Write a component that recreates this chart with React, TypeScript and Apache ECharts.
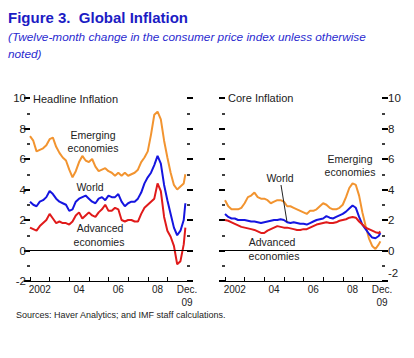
import React, { useEffect, useRef } from "react";
import * as echarts from "echarts";

// Month index from Jan 2002 (0) ... Dec 2009 (95)
const months: number[] = Array.from({ length: 48 }, (_, i) => i * 2).concat([95]);

const headlineEmerging = [7.5,7.2,6.5,6.6,6.7,6.9,7.3,7.4,6.8,6.4, 6.1,5.9,5.3,4.8,5.2,5.8,6.2,5.9,5.8,6.0, 5.5,5.2,5.3,5.4,5.2,5.1,4.9,5.1,4.9,5.1, 4.9,5.0,5.1,5.3,5.8,6.1,6.5,7.6,8.9,9.1, 8.6,7.2,6.1,5.1,4.3,4.0,4.2,4.4,5.0];
const headlineWorld = [3.2,3.0,2.9,3.2,3.3,3.5,3.9,3.7,3.4,3.2, 3.1,3.0,2.6,2.7,3.2,3.4,3.5,3.6,3.4,3.2, 3.1,3.4,3.5,3.3,3.6,3.5,3.5,3.7,3.2,2.9, 3.1,3.2,3.2,3.4,3.8,4.4,4.8,5.1,5.6,6.2, 5.7,4.3,3.3,2.4,1.5,1.0,1.3,2.0,3.1];
const headlineAdvanced = [1.5,1.4,1.3,1.6,1.8,2.0,2.4,2.1,1.8,1.9, 1.8,1.8,1.7,1.9,2.3,2.5,2.1,2.3,2.5,2.3, 2.2,2.5,2.7,3.0,2.6,2.6,2.8,2.7,2.0,1.9, 2.0,2.0,1.9,1.9,2.4,2.8,3.0,3.2,3.4,4.4, 3.9,2.2,1.3,0.9,0.3,-0.9,-0.7,0.4,1.5];

const coreEmerging = [3.3,2.9,2.7,2.7,2.7,2.8,3.1,3.5,3.6,3.8, 3.5,3.4,3.4,3.3,3.1,3.2,3.3,3.3,3.2,2.9, 2.9,2.8,2.7,2.6,2.5,2.4,2.6,2.6,2.7,2.9, 3.1,3.0,2.8,2.7,2.7,2.8,3.0,3.5,4.1,4.4, 4.3,3.6,2.5,1.6,0.8,0.3,0.1,0.4,0.6];
const coreWorld = [2.4,2.2,2.1,2.1,2.0,2.0,2.0,1.95,1.9,1.9, 1.85,1.8,1.85,1.9,1.95,2.0,2.0,2.05,2.0,1.85, 1.8,1.85,1.8,1.75,1.75,1.7,1.8,1.9,2.0,2.05, 2.1,2.25,2.15,2.1,2.2,2.3,2.4,2.55,2.75,2.95, 2.8,2.2,1.7,1.4,1.1,0.85,0.8,0.95,1.15];
const coreAdvanced = [2.0,1.95,1.85,1.75,1.65,1.55,1.5,1.45,1.4,1.35, 1.25,1.15,1.15,1.3,1.4,1.5,1.6,1.55,1.5,1.5, 1.45,1.4,1.35,1.35,1.4,1.4,1.5,1.6,1.7,1.75, 1.8,1.85,1.8,1.8,1.85,1.95,2.0,2.05,2.15,2.2, 2.15,1.9,1.7,1.5,1.4,1.3,1.2,1.15,1.25];

const yearTicks = [0, 12, 24, 36, 48, 60, 72, 84];
const xLabelPos = [6, 30, 54, 78, 96];
const xLabelText = ["2002", "04", "06", "08", "Dec.\n09"];

const ORANGE = "#f29430";
const BLUE = "#1515e0";
const RED = "#e01a1a";
const FONT = "Liberation Sans, Arial, sans-serif";

const pair = (vals: number[]) => months.map((m, i) => [m, vals[i]]);

export default function App() {
  const ref = useRef<HTMLDivElement>(null);
  useEffect(() => {
    if (!ref.current) return;
    const chart = echarts.init(ref.current, null, { renderer: "svg" });

    const xAxisCfg = (gridIndex: number) => ({
      type: "value",
      gridIndex,
      min: 0,
      max: 96,
      axisLine: { show: true, onZero: false, lineStyle: { color: "#000", width: 1 } },
      axisTick: {
        show: true,
        inside: true,
        length: 4,
        customValues: yearTicks,
        lineStyle: { color: "#000", width: 1 },
      },
      axisLabel: {
        show: true,
        customValues: xLabelPos,
        formatter: (v: number) => {
          const i = xLabelPos.indexOf(Math.round(v));
          return i >= 0 ? xLabelText[i] : "";
        },
        fontFamily: FONT,
        fontSize: 10,
        color: "#222",
        margin: 2,
        lineHeight: 13,
      },
      splitLine: { show: false },
    });

    const yAxisCfg = (gridIndex: number, position: string, showLabel: boolean, raiseLow: boolean) => ({
      type: "value",
      gridIndex,
      position,
      min: -2,
      max: 10,
      interval: 2,
      axisLine: { show: true, lineStyle: { color: "rgba(0,0,0,0)" } },
      axisTick: { show: true, length: 6, lineStyle: { color: "#000", width: 2 } },
      minorTick: { show: true, splitNumber: 2, length: 3, lineStyle: { color: "#000", width: 1.5 } },
      axisLabel: {
        show: showLabel,
        fontFamily: FONT,
        fontSize: 11.5,
        color: "#222",
        margin: raiseLow ? 6 : 4,
        formatter: (v: number) => (raiseLow && v === -2 ? "{low|-2}" : String(v)),
        rich: { low: { fontFamily: FONT, fontSize: 11.5, color: "#222", padding: [0, 0, 16, 0] } },
      },
      splitLine: { show: false },
      minorSplitLine: { show: false },
    });

    const zeroLine = {
      silent: true,
      symbol: "none",
      label: { show: false },
      lineStyle: { color: "#000", width: 1, type: "solid" },
      data: [{ yAxis: 0 }],
    };

    const line = (name: string, vals: number[], color: string, xi: number, yi: number, mark = false) => ({
      type: "line",
      name,
      xAxisIndex: xi,
      yAxisIndex: yi,
      data: pair(vals),
      showSymbol: false,
      symbol: "none",
      lineStyle: { color, width: 2 },
      itemStyle: { color },
      z: 3,
      ...(mark ? { markLine: zeroLine } : {}),
    });

    const txt = (text: string, x: number, y: number, opts: any = {}) => ({
      type: "text",
      x,
      y,
      style: {
        text,
        font: opts.font || `11px ${FONT}`,
        fill: opts.fill || "#222",
        textAlign: opts.align || "left",
        textVerticalAlign: "middle",
      },
    });

    chart.setOption({
      animation: false,
      backgroundColor: "#fff",
      grid: [
        { left: 30, right: 227, top: 98, bottom: 77 },
        { left: 225, right: 32, top: 98, bottom: 77 },
      ],
      xAxis: [xAxisCfg(0), xAxisCfg(1)],
      yAxis: [
        yAxisCfg(0, "left", true, false),
        yAxisCfg(0, "right", false, false),
        yAxisCfg(1, "left", false, false),
        yAxisCfg(1, "right", true, true),
      ],
      series: [
        line("Headline Emerging", headlineEmerging, ORANGE, 0, 0, true),
        line("Headline World", headlineWorld, BLUE, 0, 0),
        line("Headline Advanced", headlineAdvanced, RED, 0, 0),
        line("Core Emerging", coreEmerging, ORANGE, 1, 2, true),
        line("Core World", coreWorld, BLUE, 1, 2),
        line("Core Advanced", coreAdvanced, RED, 1, 2),
      ],
      graphic: [
        txt("Figure 3.  Global Inflation", 8, 17, { font: `bold 15px ${FONT}`, fill: "#1c1cc4" }),
        txt("(Twelve-month change in the consumer price index unless otherwise", 8, 37, {
          font: `italic 11.8px ${FONT}`,
          fill: "#2a2ad0",
        }),
        txt("noted)", 8, 54, { font: `italic 11.8px ${FONT}`, fill: "#2a2ad0" }),
        txt("Headline Inflation", 33, 99, { font: `11px ${FONT}` }),
        txt("Core Inflation", 228, 98, { font: `11px ${FONT}` }),
        txt("Emerging", 93, 135, { font: `10.5px ${FONT}`, align: "center" }),
        txt("economies", 93, 148, { font: `10.5px ${FONT}`, align: "center" }),
        txt("World", 90, 187, { font: `10.5px ${FONT}`, align: "center" }),
        txt("Advanced", 100, 228, { font: `10.5px ${FONT}`, align: "center" }),
        txt("economies", 99, 242, { font: `10.5px ${FONT}`, align: "center" }),
        txt("Emerging", 350, 159, { font: `10.5px ${FONT}`, align: "center" }),
        txt("economies", 350, 172, { font: `10.5px ${FONT}`, align: "center" }),
        txt("World", 280, 178, { font: `10.5px ${FONT}`, align: "center" }),
        {
          type: "line",
          shape: { x1: 281, y1: 185, x2: 287, y2: 222 },
          style: { stroke: "#222", lineWidth: 1 },
          z: 10,
        },
        txt("Advanced", 272, 242, { font: `10.5px ${FONT}`, align: "center" }),
        txt("economies", 274, 256, { font: `10.5px ${FONT}`, align: "center" }),
        txt("Sources: Haver Analytics; and IMF staff calculations.", 16, 315, { font: `9px ${FONT}` }),
      ],
    });
    return () => chart.dispose();
  }, []);
  return (
    <div
      ref={ref}
      style={{ position: "absolute", left: 0, top: 0, width: 414, height: 358, background: "#fff" }}
    />
  );
}
